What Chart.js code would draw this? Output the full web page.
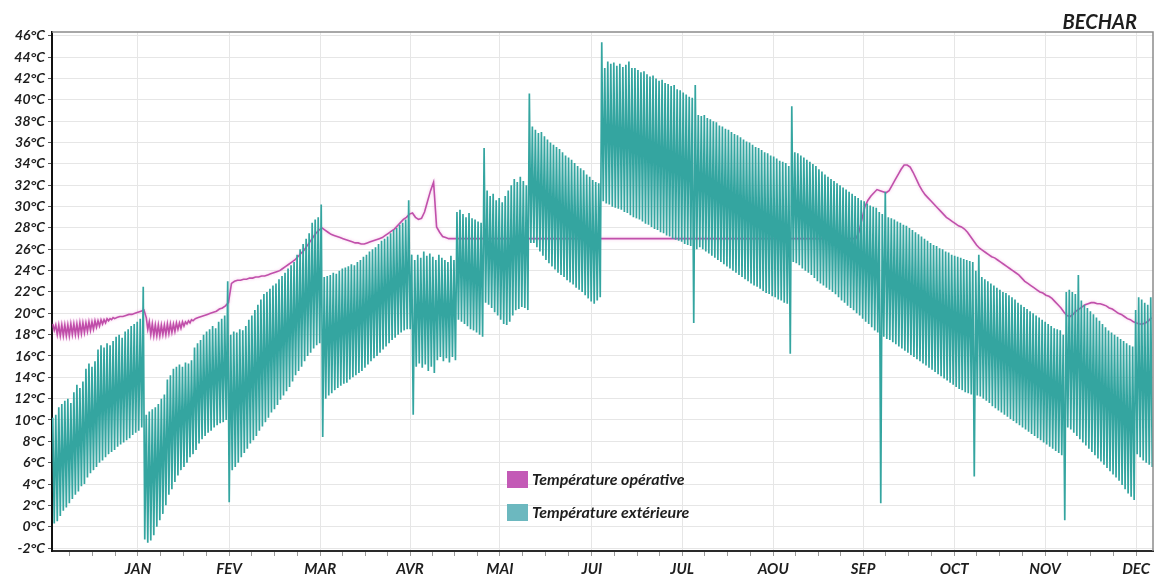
<!DOCTYPE html>
<html lang="fr">
<head>
<meta charset="utf-8">
<title>Béchar - températures</title>
<script src="https://cdn.jsdelivr.net/npm/chart.js@4.4.0/dist/chart.umd.min.js"></script>
<style>
  html, body { margin: 0; padding: 0; background: #ffffff; }
  #cadre { width: 1155px; height: 579px; }
</style>
</head>
<body>
<div id="cadre"><canvas id="graphTemp" width="1155" height="579"></canvas></div>
<script>
// ========================================
// Températures à Béchar sur une année
// extérieure (cycle jour/nuit) et opérative
// ========================================

// Mois affichés sous l'axe horizontal
const moisLabels = ['JAN', 'FEV', 'MAR', 'AVR', 'MAI', 'JUI', 'JUL', 'AOU', 'SEP', 'OCT', 'NOV', 'DEC'];

// Position des graduations principales (en jours depuis le début de l'année)
const posMois = [28.5, 58.7, 88.9, 118.7, 148.5, 179.0, 208.9, 239.1, 268.9, 299.1, 329.2, 359.4];

// Graduations de l'axe vertical (°C)
const graduationsTemp = [-2, 0, 2, 4, 6, 8, 10, 12, 14, 16, 18, 20, 22, 24, 26, 28, 30, 32, 34, 36, 38, 40, 42, 44, 46];

// Température extérieure : maximum de chaque jour (jour 0 -> 364)
const extMax = [
  // janvier
  10.2, 10.5, 11.2, 11.5, 11.8, 12.0, 11.6, 12.6, 13.3, 13.0,
  13.6, 14.8, 15.3, 15.0, 15.5, 16.6, 17.0, 16.8, 17.2, 17.0,
  17.4, 17.8, 18.0, 17.7, 18.3, 18.5, 18.8, 19.0, 19.2, 19.5, 22.5,
  // février
  10.5, 10.8, 11.0, 11.2, 11.5, 12.0, 12.4, 13.8, 14.2, 14.8,
  15.0, 15.2, 15.0, 15.4, 15.3, 15.6, 16.8, 17.2, 17.5, 18.0,
  18.3, 18.5, 18.8, 18.6, 19.2, 19.5, 19.8, 23.0,
  // mars
  18.0, 18.3, 18.2, 18.5, 18.4, 18.8, 19.4, 19.8, 20.3, 20.8,
  21.3, 21.8, 22.0, 22.3, 22.6, 22.8, 23.2, 23.5, 23.8, 24.2,
  24.5, 24.8, 25.5, 26.0, 26.5, 27.0, 27.5, 28.5, 28.8, 29.0, 30.2,
  // avril
  23.4, 23.5, 23.6, 23.8, 23.7, 24.0, 24.2, 24.3, 24.4, 24.6,
  24.5, 24.8, 25.0, 25.3, 25.5, 25.8, 26.0, 26.2, 26.5, 26.8,
  27.0, 27.2, 27.5, 27.8, 28.0, 28.3, 28.5, 28.8, 30.6, 25.5,
  // mai
  25.0, 25.5, 25.2, 25.8, 25.4, 25.6, 25.3, 25.0, 25.5, 25.2,
  25.0, 24.8, 25.4, 25.0, 29.5, 29.7, 29.3, 29.0, 29.4, 28.9,
  28.8, 28.6, 28.5, 35.5, 31.5, 31.0, 31.2, 30.6, 30.8, 30.4, 31.0,
  // juin
  31.5, 32.0, 32.6, 32.3, 32.8, 32.4, 32.0, 40.6, 37.5, 37.2,
  36.9, 37.0, 36.6, 36.3, 36.0, 35.8, 35.6, 35.4, 35.1, 34.8,
  34.6, 34.4, 34.1, 33.8, 33.6, 33.4, 33.0, 32.8, 32.5, 32.3,
  // juillet
  32.2, 45.4, 43.0, 43.6, 43.4, 43.5, 43.2, 43.4, 43.1, 43.3,
  43.6, 43.0, 43.0, 42.8, 42.6, 42.7, 42.4, 42.2, 42.3, 42.0,
  41.8, 41.9, 41.6, 41.5, 41.3, 41.4, 41.0, 40.9, 40.7, 40.5, 40.3,
  // août
  40.2, 41.4, 38.6, 38.5, 38.6, 38.3, 38.2, 38.0, 37.9, 37.6,
  37.5, 37.3, 37.2, 37.0, 36.8, 36.7, 36.5, 36.3, 36.1, 36.0,
  35.8, 35.6, 35.5, 35.3, 35.1, 35.0, 34.8, 34.7, 34.5, 34.3, 34.2,
  // septembre
  34.1, 33.8, 39.4, 35.1, 35.0, 34.8, 34.6, 34.4, 34.2, 34.0,
  33.8, 33.5, 33.3, 33.0, 32.8, 32.6, 32.4, 32.2, 32.0, 31.8,
  31.6, 31.4, 31.2, 31.0, 30.8, 30.6, 30.5, 30.3, 30.1, 30.0,
  // octobre
  29.9, 29.5, 29.3, 31.4, 29.0, 28.9, 28.8, 28.6, 28.5, 28.3,
  28.2, 28.0, 27.8, 27.6, 27.4, 27.2, 27.0, 26.8, 26.6, 26.4,
  26.3, 26.1, 26.0, 25.8, 25.7, 25.5, 25.4, 25.3, 25.2, 25.1, 25.0,
  // novembre
  24.9, 24.8, 24.0, 25.5, 23.4, 23.2, 23.0, 22.8, 22.6, 22.4,
  22.2, 22.0, 21.9, 21.7, 21.5, 21.3, 21.0, 20.8, 20.6, 20.4,
  20.2, 20.0, 19.8, 19.6, 19.4, 19.2, 19.0, 18.8, 18.6, 18.5,
  // décembre
  18.4, 18.0, 22.0, 22.2, 22.0, 21.8, 23.6, 21.2, 20.8, 20.5,
  20.2, 19.9, 19.6, 19.3, 19.0, 18.7, 18.4, 18.2, 18.0, 17.8,
  17.6, 17.4, 17.2, 17.0, 16.9, 20.3, 21.5, 21.3, 21.0, 20.8, 21.5
];

// Température extérieure : minimum de chaque jour
const extMin = [
  // janvier
  0.3, 0.5, 1.0, 1.5, 1.8, 2.2, 2.6, 3.0, 3.3, 3.8,
  4.0, 4.6, 5.0, 5.3, 5.6, 6.0, 6.2, 6.5, 6.8, 7.0,
  7.2, 7.5, 7.7, 7.9, 8.1, 8.3, 8.6, 8.8, 9.0, 9.3, -1.2,
  // février
  -1.5, -1.3, -0.8, 0.0, 0.6, 1.2, 2.0, 3.0, 3.5, 4.2,
  4.8, 5.3, 5.6, 6.0, 6.5, 6.8, 7.2, 7.8, 8.2, 8.5,
  8.8, 9.0, 9.3, 9.5, 9.7, 9.8, 10.0, 2.3,
  // mars
  5.3, 5.6, 6.0, 6.5, 6.9, 7.3, 7.8, 8.1, 8.5, 9.0,
  9.4, 9.8, 10.2, 10.7, 11.0, 11.4, 11.9, 12.3, 12.7, 13.1,
  13.6, 14.2, 14.6, 15.0, 15.5, 16.0, 16.3, 16.7, 17.0, 17.2, 8.4,
  // avril
  12.0, 12.3, 12.5, 12.8, 13.0, 13.2, 13.4, 13.5, 13.8, 14.0,
  14.2, 14.4, 14.6, 14.9, 15.2, 15.5, 15.8, 16.0, 16.3, 16.6,
  16.9, 17.2, 17.5, 17.7, 18.0, 18.2, 18.4, 18.5, 18.5, 10.5,
  // mai
  15.0, 15.3, 14.9, 15.2, 14.6, 15.0, 14.4, 15.6, 15.9, 15.5,
  15.8, 15.4, 15.9, 15.6, 19.4, 19.2, 19.0, 18.8, 18.5, 18.4,
  18.2, 18.0, 17.8, 21.0, 20.8, 20.5, 20.1, 19.8, 19.4, 19.0, 18.9,
  // juin
  19.2, 19.8, 20.3, 20.4, 20.6, 20.5, 20.3, 26.6, 26.6, 26.2,
  25.8, 25.4, 25.0, 24.7, 24.4, 24.1, 23.8, 23.6, 23.4, 23.1,
  22.9, 22.7, 22.4, 22.2, 22.0, 21.7, 21.4, 21.1, 20.9, 21.2,
  // juillet
  21.5, 30.5, 30.3, 30.2, 30.0, 29.9, 29.8, 29.7, 29.5, 29.4,
  29.2, 29.0, 28.9, 28.8, 28.6, 28.4, 28.3, 28.1, 27.9, 27.8,
  27.6, 27.5, 27.3, 27.2, 27.0, 26.9, 26.8, 26.7, 26.5, 26.4, 26.3,
  // août
  19.1, 26.0, 26.2, 26.0, 25.8, 25.6, 25.4, 25.2, 25.0, 24.8,
  24.6, 24.4, 24.2, 24.0, 23.8, 23.6, 23.4, 23.2, 23.0, 22.8,
  22.6, 22.5, 22.3, 22.1, 21.9, 21.8, 21.6, 21.5, 21.3, 21.2, 21.0,
  // septembre
  20.9, 16.2, 24.8, 24.7, 24.5, 24.2, 24.0, 23.8, 23.6, 23.3,
  23.0, 22.8, 22.6, 22.4, 22.2, 22.0, 21.8, 21.5, 21.2, 21.0,
  20.7, 20.5, 20.3, 20.0, 19.8, 19.5, 19.2, 19.0, 18.7, 18.4,
  // octobre
  18.2, 2.2, 17.8, 17.6, 17.5, 17.3, 17.1, 16.9, 16.7, 16.5,
  16.3, 16.1, 15.9, 15.7, 15.5, 15.3, 15.1, 14.9, 14.7, 14.5,
  14.3, 14.1, 13.9, 13.7, 13.5, 13.3, 13.1, 12.9, 12.8, 12.6, 12.5,
  // novembre
  12.4, 4.7, 12.3, 12.2, 12.0, 11.8, 11.6, 11.3, 11.1, 10.9,
  10.7, 10.5, 10.3, 10.1, 9.9, 9.7, 9.5, 9.3, 9.1, 8.9,
  8.7, 8.5, 8.3, 8.1, 7.9, 7.7, 7.5, 7.3, 7.1, 6.9,
  // décembre
  6.7, 0.6, 9.3, 9.1, 8.8, 8.5, 8.2, 7.9, 7.6, 7.3,
  7.0, 6.7, 6.4, 6.1, 5.8, 5.5, 5.2, 4.9, 4.6, 4.3,
  3.9, 3.5, 3.1, 2.8, 2.5, 6.8, 6.5, 6.2, 6.0, 5.8, 5.6
];

// Température opérative : valeur haute de chaque jour
const opHaut = [
  // janvier
  19.0, 18.9, 18.9, 18.9, 18.9, 18.9, 19.0, 19.0, 19.0, 19.1,
  19.1, 19.1, 19.2, 19.2, 19.3, 19.3, 19.4, 19.4, 19.5, 19.5,
  19.6, 19.6, 19.7, 19.7, 19.8, 19.9, 19.9, 20.0, 20.1, 20.2, 20.3,
  // février
  19.6, 19.2, 19.0, 18.9, 18.9, 18.9, 18.9, 19.0, 19.0, 19.0,
  19.1, 19.1, 19.2, 19.2, 19.3, 19.4, 19.5, 19.6, 19.7, 19.8,
  19.9, 20.0, 20.1, 20.2, 20.4, 20.5, 20.7, 21.0,
  // mars
  22.8, 23.0, 23.1, 23.1, 23.2, 23.2, 23.3, 23.3, 23.4, 23.4,
  23.5, 23.5, 23.6, 23.7, 23.8, 23.9, 24.0, 24.2, 24.4, 24.6,
  24.8, 25.0, 25.3, 25.6, 25.9, 26.3, 26.7, 27.1, 27.5, 27.8, 28.0,
  // avril
  27.8, 27.6, 27.4, 27.3, 27.2, 27.1, 27.0, 26.9, 26.8, 26.7,
  26.6, 26.6, 26.5, 26.5, 26.6, 26.7, 26.8, 26.9, 27.0, 27.1,
  27.3, 27.5, 27.7, 27.9, 28.2, 28.5, 28.8, 29.0, 29.3, 29.4,
  // mai
  29.0, 28.8, 28.9, 29.5, 30.5, 31.5, 32.3, 28.1, 27.6, 27.2,
  27.1, 27.0, 27.0, 27.0, 27.0, 27.0, 27.0, 27.0, 27.0, 27.0,
  27.0, 27.0, 27.0, 27.0, 27.0, 27.0, 27.0, 27.0, 27.0, 27.0, 27.0,
  // juin
  27.0, 27.0, 27.0, 27.0, 27.0, 27.0, 27.0, 27.0, 27.0, 27.0,
  27.0, 27.0, 27.0, 27.0, 27.0, 27.0, 27.0, 27.0, 27.0, 27.0,
  27.0, 27.0, 27.0, 27.0, 27.0, 27.0, 27.0, 27.0, 27.0, 27.0,
  // juillet
  27.0, 27.0, 27.0, 27.0, 27.0, 27.0, 27.0, 27.0, 27.0, 27.0,
  27.0, 27.0, 27.0, 27.0, 27.0, 27.0, 27.0, 27.0, 27.0, 27.0,
  27.0, 27.0, 27.0, 27.0, 27.0, 27.0, 27.0, 27.0, 27.0, 27.0, 27.0,
  // août
  27.0, 27.0, 27.0, 27.0, 27.0, 27.0, 27.0, 27.0, 27.0, 27.0,
  27.0, 27.0, 27.0, 27.0, 27.0, 27.0, 27.0, 27.0, 27.0, 27.0,
  27.0, 27.0, 27.0, 27.0, 27.0, 27.0, 27.0, 27.0, 27.0, 27.0, 27.0,
  // septembre
  27.0, 27.0, 27.0, 27.0, 27.0, 27.0, 27.0, 27.0, 27.0, 27.0,
  27.0, 27.0, 27.0, 27.0, 27.0, 27.0, 27.0, 27.0, 27.0, 27.0,
  27.0, 27.0, 27.0, 27.0, 27.6, 28.8, 30.0, 30.6, 31.0, 31.3,
  // octobre
  31.6, 31.5, 31.4, 31.3, 31.5, 32.0, 32.5, 33.0, 33.5, 33.9,
  33.9, 33.7, 33.2, 32.6, 32.0, 31.5, 31.1, 30.8, 30.5, 30.2,
  29.9, 29.6, 29.3, 29.0, 28.8, 28.6, 28.4, 28.2, 28.1, 27.9, 27.6,
  // novembre
  27.2, 26.8, 26.4, 26.1, 25.9, 25.7, 25.5, 25.3, 25.2, 25.0,
  24.8, 24.6, 24.4, 24.2, 24.0, 23.8, 23.6, 23.3, 23.0, 22.8,
  22.6, 22.4, 22.2, 22.0, 21.9, 21.7, 21.6, 21.4, 21.1, 20.8,
  // décembre
  20.5, 20.1, 19.8, 19.7, 19.9, 20.2, 20.4, 20.6, 20.8, 20.9,
  21.0, 21.0, 20.9, 20.9, 20.8, 20.7, 20.5, 20.4, 20.2, 20.0,
  19.9, 19.7, 19.5, 19.4, 19.2, 19.1, 19.0, 19.0, 19.1, 19.3, 19.6
];

// Température opérative : valeur basse du jour quand elle oscille (null = pas d'oscillation)
const opBas = [
  // janvier
  18.4, 18.0, 17.9, 17.9, 17.9, 17.9, 18.0, 18.0, 18.0, 18.1,
  18.2, 18.3, 18.4, 18.5, 18.7, 18.8, 19.0, 19.1, 19.3, 19.4,
  19.5, null, null, null, null, null, null, null, null, null, null,
  // février
  18.5, 18.0, 17.9, 17.9, 17.9, 18.0, 18.0, 18.1, 18.2, 18.3,
  18.5, 18.6, 18.8, 19.0, 19.1, 19.3, null, null, null, null,
  null, null, null, null, null, null, null, null
];

// Couleurs du graphique
const couleurs = {
  exterieure: '#34a5a0',
  exterieureLegende: '#6cb8bf',
  operative: 'rgba(184, 60, 160, 0.88)',
  operativeLegende: '#c35ab6',
  texte: '#1e1e1e',
  grille: '#e6e6e6'
};

const policeAxes = { family: 'Lato', size: 14, style: 'italic', weight: 'bold' };

// Transforme les valeurs journalières en points (haut puis bas dans la journée)
function pointsJournaliers(hauts, bas) {
  const points = [];
  hauts.forEach((haut, jour) => {
    const b = bas[jour];
    if (b === null || b === undefined) {
      points.push({ x: jour + 0.5, y: haut });
    } else {
      points.push({ x: jour + 0.25, y: haut });
      points.push({ x: jour + 0.75, y: b });
    }
  });
  return points;
}

// Graduations de l'axe des jours : une par mois + 3 intermédiaires
function graduationsJours() {
  const ticks = [];
  const pas = (posMois[1] - posMois[0]) / 4;
  for (let k = 3; k >= 1; k--) {
    const v = posMois[0] - k * pas;
    if (v > 0) ticks.push({ value: v, mois: -1 });
  }
  posMois.forEach((pos, i) => {
    ticks.push({ value: pos, mois: i });
    const suivant = i + 1 < posMois.length ? posMois[i + 1] : null;
    const ecart = suivant !== null ? (suivant - pos) / 4 : pas;
    for (let k = 1; k <= 3; k++) {
      const v = pos + k * ecart;
      if (v < 365) ticks.push({ value: v, mois: -1 });
    }
  });
  return ticks;
}

// Cadre, titre et légende dessinés par-dessus le graphique
const decorPlugin = {
  id: 'decorBechar',
  beforeDatasetDraw(chart, args) {
    if (args.index === 1) {
      const ctx = chart.ctx;
      ctx.save();
      ctx.shadowColor = 'rgba(238, 150, 215, 0.7)';
      ctx.shadowBlur = 3;
    }
  },
  afterDatasetDraw(chart, args) {
    if (args.index === 1) chart.ctx.restore();
  },
  afterDraw(chart) {
    const ctx = chart.ctx;
    const zone = chart.chartArea;
    ctx.save();

    // bord haut et bord droit
    ctx.strokeStyle = '#8c8c8c';
    ctx.lineWidth = 1.5;
    ctx.beginPath();
    ctx.moveTo(zone.left, zone.top);
    ctx.lineTo(zone.right, zone.top);
    ctx.lineTo(zone.right, zone.bottom);
    ctx.stroke();

    // titre
    ctx.fillStyle = couleurs.texte;
    ctx.font = 'italic bold 20px Lato';
    ctx.textAlign = 'right';
    ctx.textBaseline = 'alphabetic';
    ctx.fillText('BECHAR', zone.right - 16, zone.top - 3);

    // légende
    const entrees = [
      { texte: 'Température opérative', couleur: couleurs.operativeLegende },
      { texte: 'Température extérieure', couleur: couleurs.exterieureLegende }
    ];
    const x0 = zone.left + 455;
    let y0 = zone.top + 439;
    ctx.font = 'italic bold 16px Lato';
    ctx.textAlign = 'left';
    ctx.textBaseline = 'middle';
    entrees.forEach((e) => {
      ctx.fillStyle = e.couleur;
      ctx.fillRect(x0, y0, 21, 17);
      ctx.fillStyle = couleurs.texte;
      ctx.fillText(e.texte, x0 + 25, y0 + 9);
      y0 += 33;
    });
    ctx.restore();
  }
};

function initialiserGraphique() {
  const canvas = document.getElementById('graphTemp');
  const ctx = canvas.getContext('2d');

  new Chart(ctx, {
    type: 'line',
    data: {
      datasets: [
        {
          label: 'Température extérieure',
          data: pointsJournaliers(extMax, extMin),
          borderColor: couleurs.exterieure,
          borderWidth: 1.7,
          pointRadius: 0,
          tension: 0,
          fill: false
        },
        {
          label: 'Température opérative',
          data: pointsJournaliers(opHaut, opBas),
          borderColor: couleurs.operative,
          borderWidth: 1.6,
          pointRadius: 0,
          tension: 0,
          fill: false
        }
      ]
    },
    options: {
      responsive: false,
      animation: false,
      parsing: false,
      normalized: true,
      layout: { padding: { top: 32, right: 2, left: 0, bottom: 0 } },
      plugins: {
        legend: { display: false },
        tooltip: { enabled: false },
        title: { display: false }
      },
      scales: {
        x: {
          type: 'linear',
          min: 0,
          max: 365,
          afterBuildTicks(scale) { scale.ticks = graduationsJours(); },
          afterFit(scale) { scale.height = 28; },
          ticks: {
            autoSkip: false,
            maxRotation: 0,
            padding: 4,
            color: couleurs.texte,
            font: { family: 'Lato', size: 15, style: 'italic', weight: 'bold' },
            callback(value, index, ticks) {
              const m = ticks[index].mois;
              return m >= 0 ? moisLabels[m] : '';
            }
          },
          grid: {
            color: (c) => (c.tick && c.tick.mois >= 0 ? couleurs.grille : 'rgba(0,0,0,0)'),
            tickColor: '#9a9a9a',
            tickLength: 5,
            lineWidth: 1
          },
          border: { display: true, color: '#2a2a2a', width: 2 }
        },
        y: {
          type: 'linear',
          min: -2.28,
          max: 46.37,
          afterBuildTicks(scale) { scale.ticks = graduationsTemp.map((v) => ({ value: v })); },
          afterFit(scale) { scale.width = 52; },
          ticks: {
            padding: 3,
            color: couleurs.texte,
            font: policeAxes,
            callback: (v) => v + '°C'
          },
          grid: {
            color: couleurs.grille,
            tickColor: '#555555',
            tickLength: 4,
            lineWidth: 1
          },
          border: { display: true, color: '#111111', width: 2 }
        }
      }
    },
    plugins: [decorPlugin]
  });
}

document.addEventListener('DOMContentLoaded', initialiserGraphique);
</script>
</body>
</html>
